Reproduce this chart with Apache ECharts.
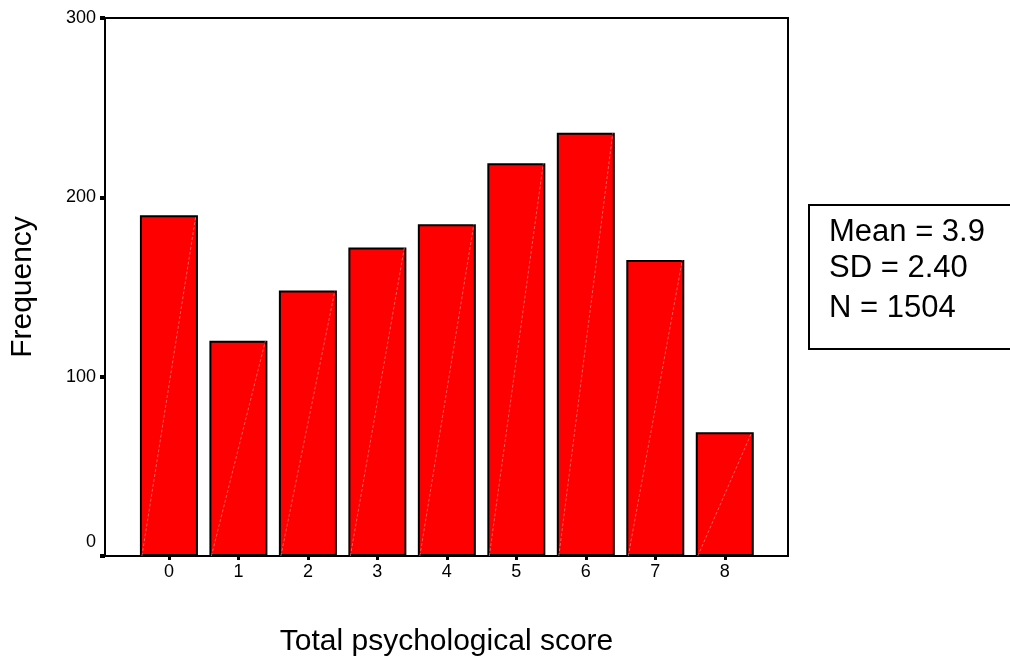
<!DOCTYPE html>
<html>
<head>
<meta charset="utf-8">
<script src="https://cdn.jsdelivr.net/npm/echarts@6/dist/echarts.min.js"></script>
<style>
html,body{margin:0;padding:0;background:#fff;}
#chart{width:1010px;height:664px;}
</style>
</head>
<body>
<div id="chart"></div>
<script>
var scores = [0, 1, 2, 3, 4, 5, 6, 7, 8];
var frequencies = [190, 120, 148, 172, 185, 219, 236, 165, 69];
var yTicks = [0, 100, 200, 300];
var statLines = ['Mean = 3.9', 'SD = 2.40', 'N = 1504'];
var xTitle = 'Total psychological score';
var yTitle = 'Frequency';

var FONT = '"Liberation Sans", Arial, sans-serif';
var barData = scores.map(function (s, i) { return [s, frequencies[i]]; });

var chart = echarts.init(document.getElementById('chart'));
chart.setOption({
  animation: false,
  backgroundColor: '#ffffff',
  grid: {
    left: 105, right: 222, top: 18, bottom: 108,
    show: true, borderColor: '#000', borderWidth: 2, backgroundColor: 'transparent'
  },
  xAxis: {
    type: 'value',
    min: -0.92, max: 8.91,
    name: xTitle,
    nameLocation: 'middle',
    nameGap: 71,
    nameTextStyle: { fontFamily: FONT, fontSize: 30, color: '#000' },
    axisLine: { show: true, onZero: false, lineStyle: { color: '#000', width: 2 } },
    axisTick: { show: true, length: 4, lineStyle: { color: '#000', width: 3 }, customValues: scores },
    axisLabel: { fontFamily: FONT, fontSize: 18, color: '#000', margin: 7, customValues: scores },
    splitLine: { show: false }
  },
  yAxis: {
    type: 'value',
    min: 0, max: 300, interval: 100,
    name: yTitle,
    nameLocation: 'middle',
    nameGap: 67,
    nameRotate: 90,
    nameTextStyle: { fontFamily: FONT, fontSize: 30, color: '#000' },
    axisLine: { show: true, onZero: false, lineStyle: { color: '#000', width: 2 } },
    axisTick: { show: true, length: 5, lineStyle: { color: '#000', width: 4 }, customValues: yTicks },
    axisLabel: {
      fontFamily: FONT, fontSize: 18, color: '#000', margin: 9, customValues: yTicks,
      formatter: function (v) { return v === 0 ? '{z|0}' : String(v); },
      rich: { z: { fontFamily: FONT, fontSize: 18, color: '#000', padding: [0, 0, 28, 0] } }
    },
    splitLine: { show: false }
  },
  series: [
    {
      type: 'bar',
      data: barData,
      barWidth: 58,
      itemStyle: { color: '#ff0000', borderColor: '#000', borderWidth: 2 }
    },
    {
      type: 'custom',
      data: barData,
      z: 3,
      silent: true,
      renderItem: function (params, api) {
        var x = api.value(0), y = api.value(1);
        var base = api.coord([x, 0]);
        var top = api.coord([x, y]);
        var half = 27;
        return {
          type: 'line',
          shape: { x1: base[0] - half, y1: base[1], x2: top[0] + half, y2: top[1] },
          style: { stroke: 'rgba(255,150,150,0.6)', lineWidth: 1, lineDash: [3, 2] }
        };
      }
    }
  ],
  graphic: [
    {
      type: 'rect',
      left: 808, top: 204,
      shape: { width: 230, height: 144 },
      style: { fill: '#fff', stroke: '#000', lineWidth: 2 }
    },
    {
      type: 'text', left: 829, top: 217,
      style: { text: statLines[0], font: '31px ' + FONT, fill: '#000' }
    },
    {
      type: 'text', left: 829, top: 253,
      style: { text: statLines[1], font: '31px ' + FONT, fill: '#000' }
    },
    {
      type: 'text', left: 829, top: 293,
      style: { text: statLines[2], font: '31px ' + FONT, fill: '#000' }
    }
  ]
});
</script>
</body>
</html>
